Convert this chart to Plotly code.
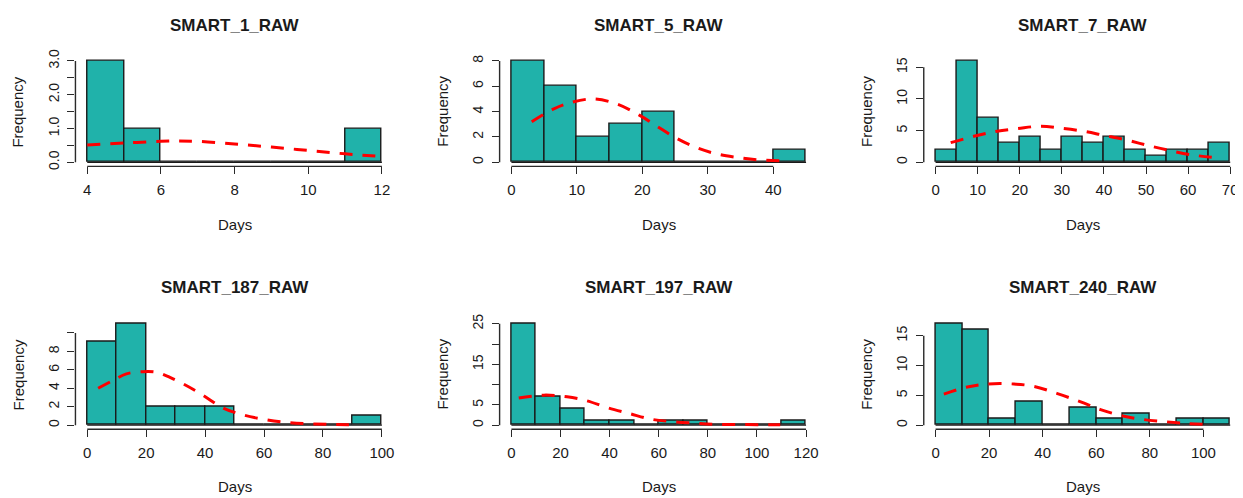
import plotly.graph_objects as go

# page is 1243x498; the browser's default 8px body margin offsets the figure
OFF = 8
W, H = 1243 - OFF, 498 - OFF

# ---------------- data ----------------
titles = ["SMART_1_RAW", "SMART_5_RAW", "SMART_7_RAW",
          "SMART_187_RAW", "SMART_197_RAW", "SMART_240_RAW"]

# histogram bin edges and counts
edges_1 = [4, 5, 6, 7, 8, 9, 10, 11, 12]
counts_1 = [3, 1, 0, 0, 0, 0, 0, 1]
edges_5 = [0, 5, 10, 15, 20, 25, 30, 35, 40, 45]
counts_5 = [8, 6, 2, 3, 4, 0, 0, 0, 1]
edges_7 = [0, 5, 10, 15, 20, 25, 30, 35, 40, 45, 50, 55, 60, 65, 70]
counts_7 = [2, 16, 7, 3, 4, 2, 4, 3, 4, 2, 1, 2, 2, 3]
edges_187 = [0, 10, 20, 30, 40, 50, 60, 70, 80, 90, 100]
counts_187 = [9, 11, 2, 2, 2, 0, 0, 0, 0, 1]
edges_197 = [0, 10, 20, 30, 40, 50, 60, 70, 80, 90, 100, 110, 120]
counts_197 = [25, 7, 4, 1, 1, 0, 1, 1, 0, 0, 0, 1]
edges_240 = [0, 10, 20, 30, 40, 50, 60, 70, 80, 90, 100, 110]
counts_240 = [17, 16, 1, 4, 0, 3, 1, 2, 0, 1, 1]

# dashed red density curves
curve_x_1 = [4, 5, 6, 6.5, 7, 8, 9, 10, 11, 12]
curve_y_1 = [0.51, 0.57, 0.62, 0.63, 0.62, 0.54, 0.45, 0.35, 0.25, 0.17]
curve_x_5 = [3.1, 6.4, 9, 12.5, 16.1, 19.6, 22.2, 25.2, 28.3, 31.3, 34.4, 37.4, 41]
curve_y_5 = [3.2, 4.2, 4.7, 5.0, 4.6, 3.7, 2.85, 1.9, 1.15, 0.67, 0.39, 0.2, 0.12]
curve_x_7 = [3.6, 9.1, 14.6, 19.4, 25, 29.7, 35.2, 40, 45.5, 50.2, 55, 60.5, 66]
curve_y_7 = [3.1, 4.1, 4.9, 5.3, 5.7, 5.4, 4.9, 4.25, 3.5, 2.7, 1.95, 1.2, 0.77]
curve_x_187 = [3.7, 8.8, 13.3, 18.9, 23.4, 27.9, 33.6, 39.2, 45.9, 52.7, 60.6, 68.5, 76.4, 84.2, 92]
curve_y_187 = [4.0, 4.86, 5.57, 5.8, 5.74, 5.2, 4.3, 3.26, 1.9, 1.13, 0.6, 0.28, 0.14, 0.07, 0.04]
curve_x_197 = [3, 13.2, 22.7, 30.8, 38.9, 48.4, 56.6, 64.7, 74.2, 82.4, 90.5, 101, 109.5]
curve_y_197 = [6.7, 7.4, 7.0, 6.0, 4.35, 2.8, 1.5, 0.9, 0.5, 0.24, 0.16, 0.12, 0.1]
curve_x_240 = [3.1, 11.8, 19.3, 29.3, 36.7, 45.5, 54.2, 61.6, 70.4, 77.8, 86.5, 94, 101.5]
curve_y_240 = [5.2, 6.4, 6.9, 6.9, 6.5, 5.3, 3.9, 2.6, 1.5, 0.93, 0.55, 0.27, 0.1]

# axis ticks
xticks_1 = [4, 6, 8, 10, 12]
xticks_5 = [0, 10, 20, 30, 40]
xticks_7 = [0, 10, 20, 30, 40, 50, 60, 70]
xticks_187 = [0, 20, 40, 60, 80, 100]
xticks_197 = [0, 20, 40, 60, 80, 100, 120]
xticks_240 = [0, 20, 40, 60, 80, 100]

yticks_1 = [0, 0.5, 1, 1.5, 2, 2.5, 3]
ylabels_1 = ["0.0", "", "1.0", "", "2.0", "", "3.0"]
yticks_5 = [0, 2, 4, 6, 8]
ylabels_5 = ["0", "2", "4", "6", "8"]
yticks_7 = [0, 5, 10, 15]
ylabels_7 = ["0", "5", "10", "15"]
yticks_187 = [0, 2, 4, 6, 8, 10]
ylabels_187 = ["0", "2", "4", "6", "8", ""]
yticks_197 = [0, 5, 10, 15, 20, 25]
ylabels_197 = ["0", "5", "", "15", "", "25"]
yticks_240 = [0, 5, 10, 15]
ylabels_240 = ["0", "5", "10", "15"]

x_title = "Days"
y_title = "Frequency"

panels = [
    (edges_1, counts_1, curve_x_1, curve_y_1, xticks_1, yticks_1, ylabels_1),
    (edges_5, counts_5, curve_x_5, curve_y_5, xticks_5, yticks_5, ylabels_5),
    (edges_7, counts_7, curve_x_7, curve_y_7, xticks_7, yticks_7, ylabels_7),
    (edges_187, counts_187, curve_x_187, curve_y_187, xticks_187, yticks_187, ylabels_187),
    (edges_197, counts_197, curve_x_197, curve_y_197, xticks_197, yticks_197, ylabels_197),
    (edges_240, counts_240, curve_x_240, curve_y_240, xticks_240, yticks_240, ylabels_240),
]

# ---------------- layout geometry (page pixels) ----------------
col_left = [75.5, 500.0, 924.5]
plot_w = 318.5
row_top = [49.8, 318.7]
plot_h = 112.0

FILL = "#20B2AA"
EDGE = "#1a1a1a"
AXC = "#2a2a2a"
TXT = "#1a1a1a"
FONT = "Liberation Sans, Arial, sans-serif"


def px(v):
    return v - OFF


fig = go.Figure()
shapes = []
annotations = []
layout_axes = {}

for i, (edges, counts, cx, cy, xt, yt, yl) in enumerate(panels):
    r, c = divmod(i, 3)
    n = i + 1
    xa = "x" if n == 1 else f"x{n}"
    ya = "y" if n == 1 else f"y{n}"
    xkey = "xaxis" if n == 1 else f"xaxis{n}"
    ykey = "yaxis" if n == 1 else f"yaxis{n}"

    left = px(col_left[c])
    top = px(row_top[r])
    right = left + plot_w
    lo, hi = edges[0], edges[-1]
    xr = [lo - 0.04 * (hi - lo), hi + 0.04 * (hi - lo)]
    if right > W:  # clip domain at paper edge but keep the same scale
        xr[1] = xr[0] + (xr[1] - xr[0]) * (W - left) / plot_w
        right = W
    xd = [left / W, right / W]
    yd = [1 - (top + plot_h) / H, 1 - top / H]

    ymax = max(counts)
    yr = [-0.04 * ymax, ymax * 1.04]

    centers = [(a + b) / 2 for a, b in zip(edges[:-1], edges[1:])]
    widths = [b - a for a, b in zip(edges[:-1], edges[1:])]

    # baseline (zero-height bins drawn as a line, like R's hist)
    fig.add_trace(go.Scatter(x=[lo, hi], y=[0, 0], mode="lines",
                             line=dict(color=EDGE, width=1.4),
                             xaxis=xa, yaxis=ya, showlegend=False, hoverinfo="skip"))
    fig.add_trace(go.Bar(x=centers, y=counts, width=widths,
                         marker=dict(color=FILL, line=dict(color=EDGE, width=1.4)),
                         xaxis=xa, yaxis=ya, showlegend=False))
    fig.add_trace(go.Scatter(x=cx, y=cy, mode="lines",
                             line=dict(color="#FF0000", width=3, dash="13px,10px", shape="spline"),
                             xaxis=xa, yaxis=ya, showlegend=False))

    layout_axes[xkey] = dict(domain=xd, range=xr, anchor=ya, showgrid=False, zeroline=False,
                             showline=False, ticks="outside", ticklen=7, tickwidth=1.2,
                             tickcolor=AXC, tickvals=xt, ticktext=[str(v) for v in xt],
                             tickfont=dict(family=FONT, size=15, color=TXT),
                             ticklabelstandoff=3, fixedrange=True)
    layout_axes[ykey] = dict(domain=yd, range=yr, anchor=xa, showgrid=False, zeroline=False,
                             showline=False, ticks="outside", ticklen=7, tickwidth=1.2,
                             tickcolor=AXC, tickvals=yt, ticktext=yl, tickangle=-90,
                             tickfont=dict(family=FONT, size=14, color=TXT),
                             ticklabelstandoff=3, fixedrange=True)

    # R-style axis lines spanning only the tick range
    shapes.append(dict(type="line", xref=xa, yref=f"{ya} domain", x0=xt[0], x1=xt[-1],
                       y0=0, y1=0, line=dict(color=AXC, width=1.4)))
    shapes.append(dict(type="line", xref=f"{xa} domain", yref=ya, x0=0, x1=0,
                       y0=yt[0], y1=yt[-1], line=dict(color=AXC, width=1.4)))

    cxp = (left + plot_w / 2) / W
    annotations.append(dict(text=f"<b>{titles[i]}</b>", xref="paper", yref="paper",
                            x=cxp, y=1 - (top - 32.5) / H, xanchor="center", yanchor="middle",
                            showarrow=False, font=dict(family=FONT, size=17, color=TXT)))
    annotations.append(dict(text=x_title, xref="paper", yref="paper",
                            x=cxp, y=1 - (top + plot_h + 59) / H, xanchor="center",
                            yanchor="middle", showarrow=False,
                            font=dict(family=FONT, size=15, color=TXT)))
    annotations.append(dict(text=y_title, xref="paper", yref="paper",
                            x=(left - 57.5) / W, y=1 - (top + plot_h / 2) / H,
                            xanchor="center", yanchor="middle", textangle=-90,
                            showarrow=False, font=dict(family=FONT, size=15, color=TXT)))

fig.update_layout(width=W, height=H, margin=dict(l=0, r=0, t=0, b=0),
                  paper_bgcolor="white", plot_bgcolor="white",
                  bargap=0, shapes=shapes, annotations=annotations,
                  font=dict(family=FONT, color=TXT), showlegend=False, **layout_axes)

fig.write_html("out.html")
